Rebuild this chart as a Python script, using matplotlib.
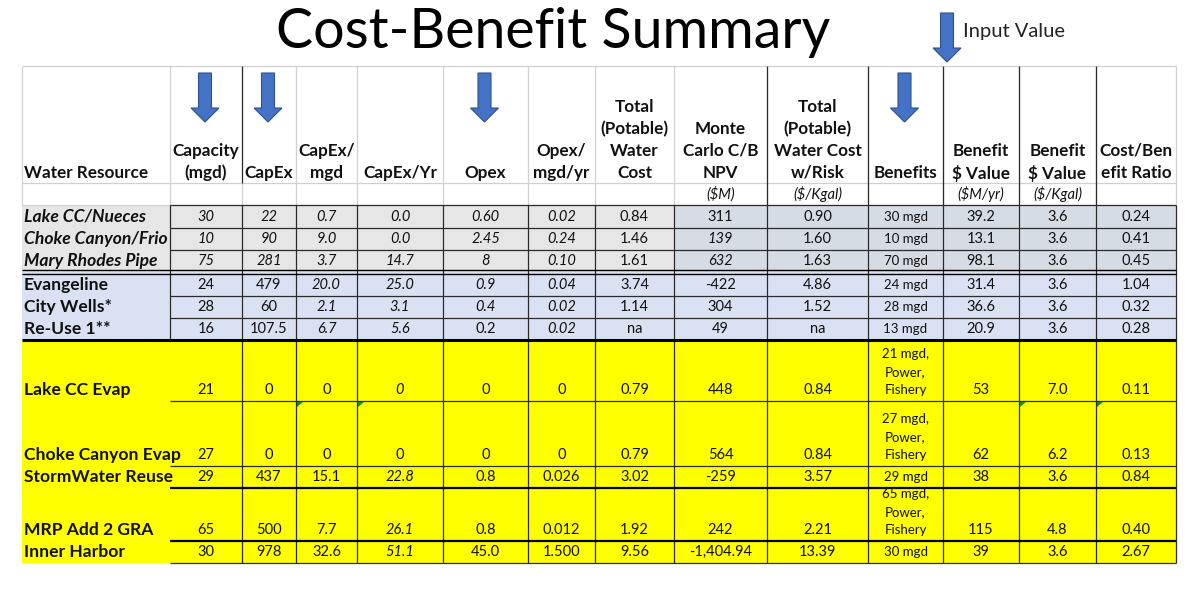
import matplotlib.pyplot as plt
from matplotlib.patches import Rectangle, Polygon

plt.rcParams['font.family'] = ['Lato', 'DejaVu Sans']

# ========== [ DATA ] ============================
title = 'Cost-Benefit Summary'
note = 'Input Value'

headers = ['Water Resource', 'Capacity\n(mgd)', 'CapEx', 'CapEx/\nmgd', 'CapEx/Yr', 'Opex',
           'Opex/\nmgd/yr', 'Total\n(Potable)\nWater\nCost', 'Monte\nCarlo C/B\nNPV',
           'Total\n(Potable)\nWater Cost\nw/Risk', 'Benefits', 'Benefit\n$ Value',
           'Benefit\n$ Value', 'Cost/Ben\nefit Ratio']
units = ['', '', '', '', '', '', '', '', '($M)', '($/Kgal)', '', '($M/yr)', '($/Kgal)', '']

resources    = ['Lake CC/Nueces', 'Choke Canyon/Frio', 'Mary Rhodes Pipe', 'Evangeline',
                'City Wells*', 'Re-Use 1**', 'Lake CC Evap', 'Choke Canyon Evap',
                'StormWater Reuse', 'MRP Add 2 GRA', 'Inner Harbor']
capacity     = ['30', '10', '75', '24', '28', '16', '21', '27', '29', '65', '30']
capex        = ['22', '90', '281', '479', '60', '107.5', '0', '0', '437', '500', '978']
capex_mgd    = ['0.7', '9.0', '3.7', '20.0', '2.1', '6.7', '0', '0', '15.1', '7.7', '32.6']
capex_yr     = ['0.0', '0.0', '14.7', '25.0', '3.1', '5.6', '0', '0', '22.8', '26.1', '51.1']
opex         = ['0.60', '2.45', '8', '0.9', '0.4', '0.2', '0', '0', '0.8', '0.8', '45.0']
opex_mgd_yr  = ['0.02', '0.24', '0.10', '0.04', '0.02', '0.02', '0', '0', '0.026', '0.012', '1.500']
water_cost   = ['0.84', '1.46', '1.61', '3.74', '1.14', 'na', '0.79', '0.79', '3.02', '1.92', '9.56']
npv          = ['311', '139', '632', '-422', '304', '49', '448', '564', '-259', '242', '-1,404.94']
cost_risk    = ['0.90', '1.60', '1.63', '4.86', '1.52', 'na', '0.84', '0.84', '3.57', '2.21', '13.39']
benefits     = ['30 mgd', '10 mgd', '70 mgd', '24 mgd', '28 mgd', '13 mgd',
                '21 mgd,\nPower,\nFishery', '27 mgd,\nPower,\nFishery', '29 mgd',
                '65 mgd,\nPower,\nFishery', '30 mgd']
benefit_musd = ['39.2', '13.1', '98.1', '31.4', '36.6', '20.9', '53', '62', '38', '115', '39']
benefit_kgal = ['3.6', '3.6', '3.6', '3.6', '3.6', '3.6', '7.0', '6.2', '3.6', '4.8', '3.6']
cb_ratio     = ['0.24', '0.41', '0.45', '1.04', '0.32', '0.28', '0.11', '0.13', '0.84', '0.40', '2.67']

columns = [resources, capacity, capex, capex_mgd, capex_yr, opex, opex_mgd_yr, water_cost,
           npv, cost_risk, benefits, benefit_musd, benefit_kgal, cb_ratio]

input_cols = [1, 2, 5, 10]   # columns flagged with the blue arrow

# ========== [ STYLE ] ============================
col_x = [22, 170, 242, 296, 357, 443, 528, 595, 674, 767, 868, 943, 1019, 1096, 1176]
row_y = [205, 228, 250, 272, 296, 318, 340, 401, 466, 488, 541, 563]

GRAY = '#e7e6e6'
BLUEGRAY = '#d6dce4'
BLUE = '#d9e1f2'
YELLOW = '#ffff00'
LIGHT = '#d0d0d0'
DARK = '#2b2b2b'
ARROW = '#4472c4'
INK = '#111111'

italic_cells = set()
for r in range(3):
    italic_cells.update({(r, c) for c in range(0, 7)})
italic_cells.update({(1, 8), (2, 8)})
for r in range(3, 6):
    italic_cells.update({(r, 3), (r, 4), (r, 6)})
italic_cells.update({(3, 5), (4, 5)})
italic_cells.update({(6, 4), (8, 4), (9, 4), (10, 4)})
green_flags = [(7, 3), (7, 4), (7, 12), (7, 13)]
dark_head_cols = [242, 767, 868, 943, 1019, 1096]

# ========== [ PLOTTING ] ============================
fig = plt.figure(figsize=(12, 6), dpi=100)
ax = fig.add_axes([0, 0, 1, 1])
ax.set_xlim(0, 1200)
ax.set_ylim(600, 0)
ax.axis('off')


def arrow(xc, top, ax=ax):
    pts = [(xc - 6.5, top), (xc + 6.5, top), (xc + 6.5, top + 35), (xc + 14, top + 35),
           (xc, top + 49), (xc - 14, top + 35), (xc - 6.5, top + 35)]
    ax.add_patch(Polygon(pts, closed=True, facecolor=ARROW, edgecolor='#2f528f', lw=0.8, zorder=4))


# title + note
ax.text(553, 33, title, fontsize=40, ha='center', va='center', parse_math=False)
arrow(947, 13)
ax.text(963, 31, note, fontsize=14.5, ha='left', va='center', color='#222222', parse_math=False)

# header grid
ax.hlines([66, 183, 205], col_x[0], col_x[-1], colors=LIGHT, lw=0.9)
ax.vlines(col_x, 66, 205, colors=LIGHT, lw=0.9)
ax.vlines(dark_head_cols[0], 66, 183, colors=DARK, lw=0.9, zorder=3)
ax.vlines(dark_head_cols[1:], 66, 205, colors=DARK, lw=0.9, zorder=3)

for c, h in enumerate(headers):
    lines = h.split('\n')[::-1]
    for k, line in enumerate(lines):
        if c == 0:
            x, ha = 24, 'left'
        else:
            x, ha = (col_x[c] + col_x[c + 1]) / 2, 'center'
        ax.text(x, 173 - 22 * k, line, fontsize=12.3, fontweight='bold', ha=ha, va='center',
                color=INK, parse_math=False)
    if units[c]:
        ax.text((col_x[c] + col_x[c + 1]) / 2, 194, units[c], fontsize=10.5, style='italic',
                ha='center', va='center', color=INK, parse_math=False)

for c in input_cols:
    arrow((col_x[c] + col_x[c + 1]) / 2 - 1, 73)

# row backgrounds
for r in range(len(resources)):
    y0, y1 = row_y[r], row_y[r + 1]
    if r < 3:
        ax.add_patch(Rectangle((col_x[0], y0), col_x[8] - col_x[0], y1 - y0, color=GRAY, lw=0, zorder=1))
        ax.add_patch(Rectangle((col_x[8], y0), col_x[-1] - col_x[8], y1 - y0, color=BLUEGRAY, lw=0, zorder=1))
    elif r < 6:
        ax.add_patch(Rectangle((col_x[0], y0), col_x[-1] - col_x[0], y1 - y0, color=BLUE, lw=0, zorder=1))
    else:
        ax.add_patch(Rectangle((col_x[0], y0), col_x[-1] - col_x[0], y1 - y0, color=YELLOW, lw=0, zorder=1))

# data grid
ax.hlines(row_y[:3] + row_y[4:6] + row_y[7:9], col_x[1], col_x[-1], colors=DARK, lw=0.9, zorder=3)
ax.vlines(col_x[1:], row_y[0], row_y[6], colors=DARK, lw=0.9, zorder=3)
ax.vlines(col_x[2:], row_y[6], row_y[-1], colors=DARK, lw=0.9, zorder=3)
ax.hlines([270, 273.5], col_x[0], col_x[-1], colors='black', lw=1.0, zorder=3)
ax.hlines(row_y[6], col_x[0], col_x[-1], colors='black', lw=2.2, zorder=3)
ax.hlines([row_y[9], row_y[10]], col_x[1], col_x[-1], colors='black', lw=1.6, zorder=3)
ax.hlines(row_y[-1], col_x[1], col_x[-1], colors=DARK, lw=0.9, zorder=3)

for (r, c) in green_flags:
    x0, y0 = col_x[c], row_y[r]
    ax.add_patch(Polygon([(x0 + 1, y0 + 1), (x0 + 7, y0 + 1), (x0 + 1, y0 + 6)],
                         closed=True, color='#1e8c1e', lw=0, zorder=4))

name_clip = Rectangle((col_x[0], row_y[0]), col_x[1] - col_x[0] - 1, row_y[-1] - row_y[0],
                      transform=ax.transData, visible=False)
ax.add_patch(name_clip)

for r in range(len(resources)):
    yb = row_y[r + 1] - 11
    for c, col in enumerate(columns):
        val = col[r]
        sty = 'italic' if (r, c) in italic_cells else 'normal'
        if c == 0:
            t = ax.text(24, yb, val, fontsize=12.6, fontweight='bold', style=sty, ha='left',
                        va='center', color=INK, zorder=5, parse_math=False)
            t.set_clip_path(name_clip)
            continue
        xc = (col_x[c] + col_x[c + 1]) / 2
        if c == 10:
            for k, line in enumerate(val.split('\n')[::-1]):
                ax.text(xc, yb - 18 * k, line, fontsize=9.5, ha='center', va='center',
                        color=INK, zorder=5, parse_math=False)
            continue
        ax.text(xc, yb, val, fontsize=10.5, style=sty, ha='center', va='center',
                color=INK, zorder=5, parse_math=False)

plt.savefig('out.png', dpi=100)
